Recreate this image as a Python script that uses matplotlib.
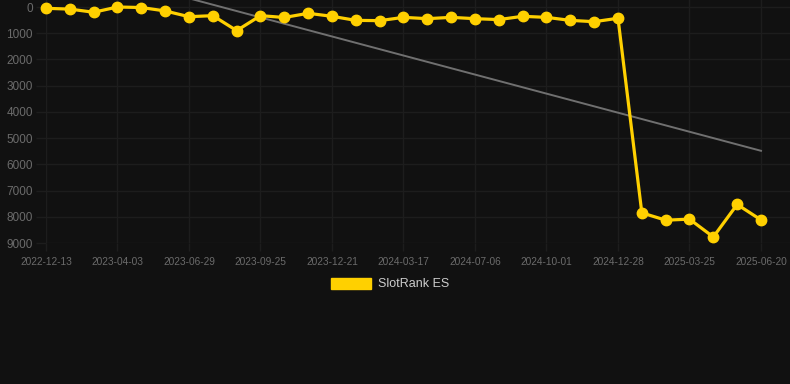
import matplotlib
matplotlib.use("Agg")
import matplotlib.pyplot as plt
from matplotlib.patches import Patch
import numpy as np

plt.rcParams['font.family'] = ['Liberation Sans', 'DejaVu Sans']

# ---- data ----
tick_labels = ["2022-12-13", "2023-04-03", "2023-06-29", "2023-09-25", "2023-12-21",
               "2024-03-17", "2024-07-06", "2024-10-01", "2024-12-28", "2025-03-25",
               "2025-06-20"]
rank_es = [50, 80, 200, 0, 20, 150, 370, 330, 900, 330,
           400, 240, 355, 510, 520, 395, 445, 395, 445, 480,
           355, 395, 510, 560, 430, 7850, 8130, 8090, 8770, 7530,
           8120]
series_name = "SlotRank ES"
y_ticks = [0, 1000, 2000, 3000, 4000, 5000, 6000, 7000, 8000, 9000]

# ---- style ----
BG = "#111111"
YELLOW = "#FFD000"
GRID = "#1d1d1d"
TICK = "#6b6b6b"

fig = plt.figure(figsize=(7.9, 3.84), dpi=100, facecolor=BG)
ax = fig.add_axes([46 / 790, 1 - 243 / 384, (790 - 46) / 790, 243 / 384])
ax.set_facecolor(BG)

x = np.arange(len(rank_es))
y = np.array(rank_es, dtype=float)

# trend line (linear regression)
coef = np.polyfit(x, y, 1)
ax.plot(x, np.polyval(coef, x), color="#707070", lw=1.4, zorder=2)

ax.plot(x, y, color=YELLOW, lw=2.3, marker="o", markersize=7.5,
        markerfacecolor=YELLOW, markeredgecolor=YELLOW, zorder=3, clip_on=False)

ax.set_xlim(0, 30 + 29 / 23.83)
ax.set_ylim(9000, -267)

tick_pos = x[::3]
ax.set_xticks(tick_pos)
ax.set_xticklabels(tick_labels)
ax.set_yticks(y_ticks)
ax.set_yticklabels([str(v) for v in y_ticks])

ax.grid(True, color=GRID, lw=1)
ax.set_axisbelow(True)
for s in ax.spines.values():
    s.set_visible(False)
ax.tick_params(axis="x", colors=GRID, labelcolor=TICK, labelsize=7.3,
               length=6, width=1, pad=4)
ax.tick_params(axis="y", colors=GRID, labelcolor=TICK, labelsize=8.5,
               length=7, width=1, pad=2.5)

handle = Patch(facecolor=YELLOW, edgecolor=YELLOW)
leg = fig.legend([handle], [series_name], loc="center",
                 bbox_to_anchor=(390 / 790, 1 - 284 / 384),
                 frameon=False, fontsize=9, handlelength=3.2, handleheight=1.0,
                 handletextpad=0.5, borderpad=0)
for t in leg.get_texts():
    t.set_color("#cccccc")

fig.savefig("out.png", dpi=100, facecolor=BG)
